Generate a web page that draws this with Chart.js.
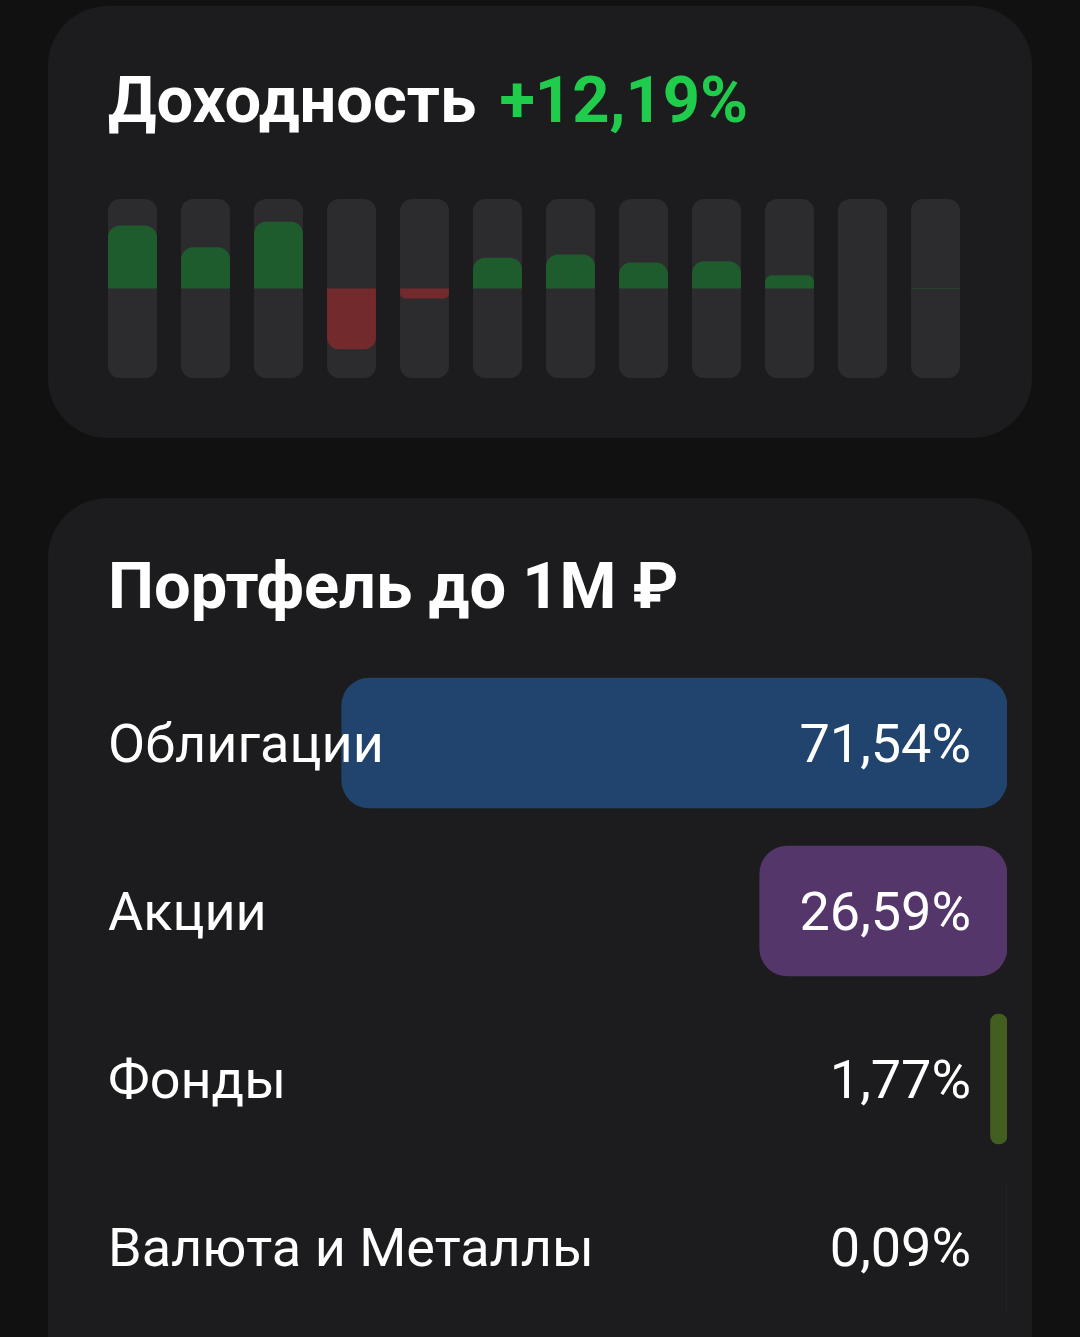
<!DOCTYPE html>
<html lang="ru">
<head>
<meta charset="utf-8">
<script src="https://cdn.jsdelivr.net/npm/chart.js@4.4.1/dist/chart.umd.min.js"></script>
<style>
    html, body { margin: 0; padding: 0; }
    body {
        width: 1080px; height: 1337px; overflow: hidden; position: relative;
        background: #111111; font-family: Roboto, "Noto Sans", sans-serif; color: #fff;
    }
    .card { position: absolute; left: 48px; width: 984px; background: #1c1c1e; border-radius: 60px; }
    .title { position: absolute; left: 108px; font-size: 65px; font-weight: 700; line-height: 65px; white-space: nowrap; }
    .title .gain { color: #1fcc4c; margin-left: 7px; }
    canvas { position: absolute; }
</style>
</head>
<body>
<div class="card" style="top:6px; height:432px;"></div>
<div class="card" style="top:498px; height:900px;"></div>

<div class="title" style="top:68px;">Доходность <span class="gain" id="totalGain"></span></div>
<div class="title" style="top:554px;" id="portfolioTitle"></div>

<canvas id="returnsChart" width="876" height="179" style="left:96px; top:199px;"></canvas>
<canvas id="allocChart" width="1080" height="672" style="left:0; top:659px;"></canvas>

<script>
// Доходность по месяцам, %
const months = ['Янв', 'Фев', 'Мар', 'Апр', 'Май', 'Июн', 'Июл', 'Авг', 'Сен', 'Окт', 'Ноя', 'Дек'];
const monthlyReturns = [3.31, 2.16, 3.51, -3.19, -0.52, 1.62, 1.79, 1.37, 1.43, 0.69, 0, 0.02];
const totalReturn = 12.19;
const trackLimit = 4.7; // высота серой дорожки, в %

// Структура портфеля, %
const portfolioTitle = 'Портфель до 1М ₽';
const assetClasses = ['Облигации', 'Акции', 'Фонды', 'Валюта и Металлы'];
const assetShares = [71.54, 26.59, 1.77, 0.09];
const assetColors = ['#20446d', '#55366a', '#435f20', '#222224'];

const fmtPct = v => v.toFixed(2).replace('.', ',') + '%';

document.getElementById('totalGain').textContent = '+' + fmtPct(totalReturn);
document.getElementById('portfolioTitle').textContent = portfolioTitle;

new Chart(document.getElementById('returnsChart'), {
    type: 'bar',
    data: {
        labels: months,
        datasets: [
            {
                label: 'Доходность',
                data: monthlyReturns,
                backgroundColor: ctx => (ctx.raw < 0 ? '#722a2c' : '#1e5b2d'),
                borderRadius: 12,
                grouped: false,
                order: 1
            },
            {
                label: 'track',
                data: months.map(() => [-trackLimit, trackLimit]),
                backgroundColor: '#2c2c2e',
                borderRadius: 12,
                borderSkipped: false,
                grouped: false,
                order: 2
            }
        ]
    },
    options: {
        responsive: false,
        devicePixelRatio: 1,
        animation: false,
        layout: { padding: 0 },
        datasets: { bar: { barPercentage: 1, categoryPercentage: 0.671 } },
        scales: {
            x: { display: false },
            y: { display: false, min: -trackLimit, max: trackLimit }
        },
        plugins: { legend: { display: false }, tooltip: { enabled: false } }
    }
});

const rowLabels = {
    id: 'rowLabels',
    afterDatasetsDraw(chart) {
        const { ctx, scales: { y } } = chart;
        ctx.save();
        ctx.fillStyle = '#ffffff';
        ctx.font = '400 54px Roboto, "Noto Sans", sans-serif';
        ctx.textBaseline = 'middle';
        assetClasses.forEach((name, i) => {
            const py = y.getPixelForValue(i) + 5;
            ctx.textAlign = 'left';
            ctx.fillText(name, 108, py);
            ctx.textAlign = 'right';
            ctx.fillText(fmtPct(assetShares[i]), 971, py);
        });
        ctx.restore();
    }
};

new Chart(document.getElementById('allocChart'), {
    type: 'bar',
    data: {
        labels: assetClasses,
        datasets: [{
            data: assetShares,
            backgroundColor: assetColors,
            borderRadius: 28,
            borderSkipped: false,
            barThickness: 130
        }]
    },
    options: {
        indexAxis: 'y',
        responsive: false,
        devicePixelRatio: 1,
        animation: false,
        layout: { padding: { left: 77, right: 73, top: 0, bottom: 0 } },
        scales: {
            x: { display: false, min: 0, max: 100, reverse: true },
            y: { display: false }
        },
        plugins: { legend: { display: false }, tooltip: { enabled: false } }
    },
    plugins: [rowLabels]
});
</script>
</body>
</html>
